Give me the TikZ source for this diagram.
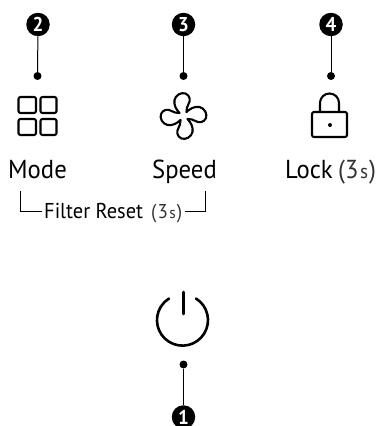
\documentclass[tikz,border=0pt]{standalone}
\usepackage{fontspec}
\setmainfont[FakeStretch=0.95]{PT Sans}
\tikzset{
  x=1pt,y=-1pt,
  badge/.style={circle,fill=black,text=white,minimum size=23.5pt,inner sep=0pt,font=\fontsize{20pt}{20pt}\selectfont\bfseries},
  tipdot/.style={circle,fill=black,minimum size=8pt,inner sep=0pt},
  leader/.style={line width=1pt,black},
  icon/.style={line width=2.1pt,black,line join=round,line cap=round},
  lab/.style={inner sep=0pt,anchor=base west,font=\fontsize{26pt}{26pt}\selectfont,text=black},
  sublab/.style={inner sep=0pt,anchor=base west,font=\fontsize{21.5pt}{21.5pt}\selectfont,text=black},
  thin3s/.style={inner sep=0pt,anchor=base west,text=black!80}
}
\begin{document}
\begin{tikzpicture}
\useasboundingbox (0,0) rectangle (381,426);
\clip (0,0) rectangle (381,426);
\node[badge] (b2) at (38,24.5) {2};
\node[badge] (b3) at (183.5,24.5) {3};
\node[badge] (b4) at (331,24.5) {4};
\node[badge] (b1) at (183.5,417) {1};
\node[tipdot] (d2) at (37.5,76) {};
\node[tipdot] (d3) at (183.5,76) {};
\node[tipdot] (d4) at (331,76) {};
\node[tipdot] (d1) at (183.5,364.5) {};
\draw[leader] (b2) -- (d2);
\draw[leader] (b3) -- (d3);
\draw[leader] (b4) -- (d4);
\draw[leader] (b1) -- (d1);
% mode icon
\draw[icon,rounded corners=2pt] (18.5,97) rectangle (36,113);
\draw[icon,rounded corners=2pt] (40.5,97) rectangle (56.5,113);
\draw[icon,rounded corners=2pt] (18.5,119) rectangle (36,135);
\draw[icon,rounded corners=2pt] (40.5,119) rectangle (56.5,135);
% fan icon
\foreach \a in {0,90,180,270}{
  \begin{scope}[shift={(183.5,116)},rotate=\a]
    \draw[icon] (-4,-3) .. controls (-7,-6) and (-10,-11) .. (-9,-16)
       .. controls (-8,-21) and (-2,-24) .. (2,-22.5)
       .. controls (7,-20.5) and (7,-15) .. (5,-12)
       .. controls (3.5,-9.5) and (3,-7) .. (3,-4);
  \end{scope}
}
% lock icon
\draw[icon,rounded corners=2pt] (312,112) rectangle (347,137);
\draw[icon] (320,112) -- (320,103) arc[start angle=180,end angle=360,radius=9.5] -- (339,112);
\fill (330,125) circle (2);
% power icon
\draw[icon,line width=2.6pt] (196,298.5) arc[start angle=-58,end angle=238,radius=25.5];
\draw[icon,line width=2.6pt] (183.5,292) -- (183.5,314);
% labels
\node[lab] (mode) at (8,178) {Mode};
\node[lab] (speed) at (152,178) {Speed};
\node[lab] (lock) at (285,178) {Lock};
\node[lab,text=black!80] (lock3) at (338,178) {(3\kern1.5pt{\fontsize{20pt}{20pt}\selectfont s}\kern1pt)};
\node[sublab] (filter) at (44,218) {Filter Reset};
\node[thin3s,font=\fontsize{20pt}{20pt}\selectfont] (f3) at (151,218) {(\kern1pt 3\kern1.5pt{\fontsize{16pt}{16pt}\selectfont s}\kern1pt)};
\coordinate (l1) at (20,191);
\coordinate (l2) at (20,211);
\coordinate (r1) at (205.5,191);
\coordinate (r2) at (205.5,211);
\draw[line width=.9pt] (l1) -- (l2) -- (42,211);
\draw[line width=.9pt] (r1) -- (r2) -- (185,211);
\end{tikzpicture}
\end{document}
